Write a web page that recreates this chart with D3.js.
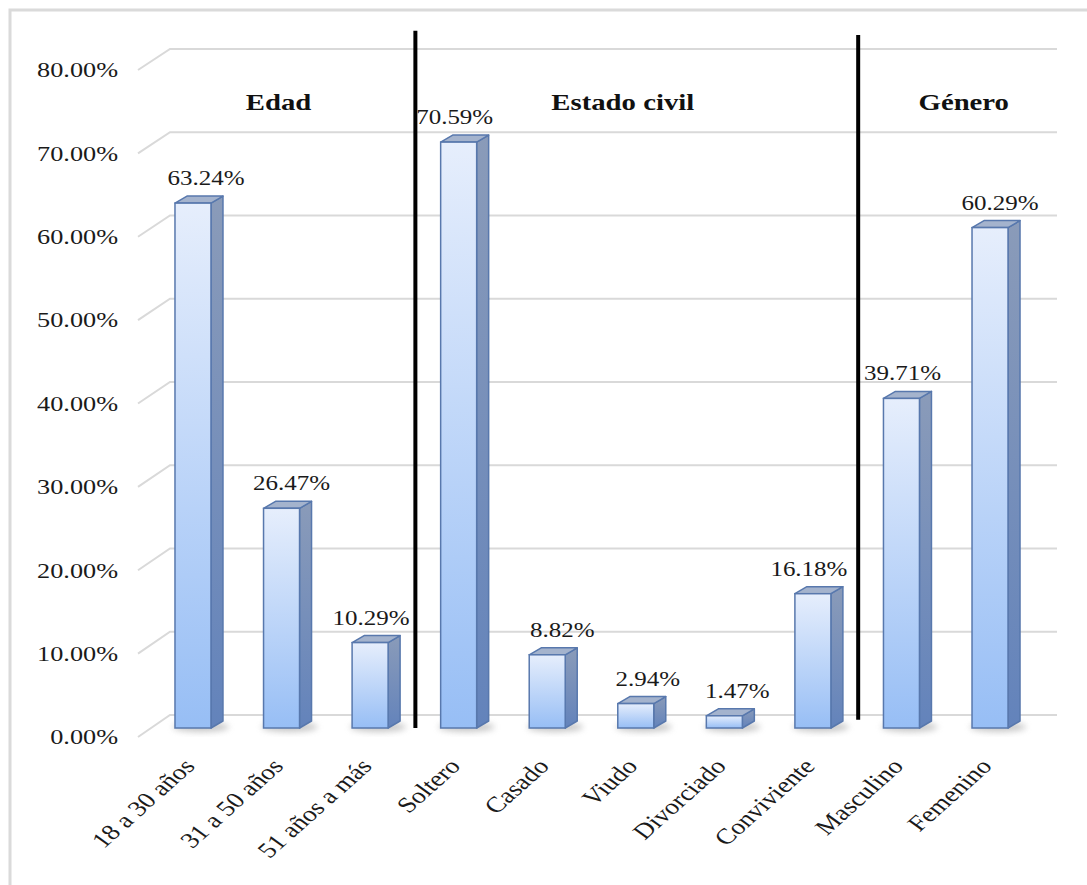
<!DOCTYPE html>
<html>
<head>
<meta charset="utf-8">
<script src="https://cdn.jsdelivr.net/npm/d3@7"></script>
<style>
  body { margin: 0; background: #fff; }
  text { font-family: "Liberation Serif", "Times New Roman", serif; fill: #1a1a1a; }
</style>
</head>
<body>
<div id="chart"></div>
<script>
// chart data
var categories = ['18 a 30 años', '31 a 50 años', '51 años a más', 'Soltero', 'Casado', 'Viudo', 'Divorciado', 'Conviviente', 'Masculino', 'Femenino'];
var values = [63.24, 26.47, 10.29, 70.59, 8.82, 2.94, 1.47, 16.18, 39.71, 60.29];
var groups = ['Edad', 'Estado civil', 'Género'];
var groupSizes = [3, 5, 2];
var yTicks = [0, 10, 20, 30, 40, 50, 60, 70, 80];

var width = 1087, height = 885;
var sx = 1.25; // the picture is stretched sideways

var svg = d3.select('#chart').append('svg')
    .attr('width', width)
    .attr('height', height);

var defs = svg.append('defs');
var gFront = defs.append('linearGradient').attr('id', 'front').attr('x1', 0).attr('y1', 0).attr('x2', 0).attr('y2', 1);
gFront.append('stop').attr('offset', '0%').attr('stop-color', '#e6eefc');
gFront.append('stop').attr('offset', '100%').attr('stop-color', '#97bef5');
var gSide = defs.append('linearGradient').attr('id', 'side').attr('x1', 0).attr('y1', 0).attr('x2', 0).attr('y2', 1);
gSide.append('stop').attr('offset', '0%').attr('stop-color', '#8a9bb9');
gSide.append('stop').attr('offset', '100%').attr('stop-color', '#6383bb');
defs.append('filter').attr('id', 'blur').attr('x', '-50%').attr('y', '-50%').attr('width', '200%').attr('height', '200%')
    .append('feGaussianBlur').attr('stdDeviation', 3);

// outer frame
svg.append('rect')
    .attr('x', 10).attr('y', 10)
    .attr('width', width).attr('height', height)
    .attr('fill', 'none')
    .attr('stroke', '#dadada')
    .attr('stroke-width', 3);

// scales
var yBack = d3.scaleLinear().domain([0, 80]).range([715, 49]);
var yFront = d3.scaleLinear().domain([0, 80]).range([737, 70]);
var yBar = d3.scaleLinear().domain([0, 80]).range([728, 64]);
var x = d3.scaleBand().domain(categories).range([148.7, 1034.3]);

var barW = 36, depthX = 12, depthY = 7;
var wallLeft = 170, wallRight = 1057, frontLeft = 138;
// labels were nudged sideways by hand in the original
var labelNudge = [13, 10, 1, -4, 15, 12, 13, -4, 1, 10];

// gridlines (back wall + left wall slant)
var grid = svg.append('g');
grid.selectAll('path')
    .data(yTicks)
    .enter()
    .append('path')
    .attr('d', function (d) {
        return 'M' + frontLeft + ',' + yFront(d) + 'L' + wallLeft + ',' + yBack(d) + 'L' + wallRight + ',' + yBack(d);
    })
    .attr('fill', 'none')
    .attr('stroke', '#d9d9d9')
    .attr('stroke-width', 2);

// y labels
svg.append('g').selectAll('text')
    .data(yTicks)
    .enter()
    .append('text')
    .attr('transform', function (d) { return 'translate(118,' + yFront(d) + ') scale(' + sx + ',1)'; })
    .attr('text-anchor', 'end')
    .attr('dy', '0.35em')
    .style('font-size', '21px')
    .text(function (d) { return d.toFixed(2) + '%'; });

// bars
var bars = svg.append('g').selectAll('g')
    .data(categories)
    .enter()
    .append('g');

function cx(c) { return x(c) + x.bandwidth() / 2; }

// shadow at the base
bars.append('ellipse')
    .attr('cx', function (c) { return cx(c) + 8; })
    .attr('cy', yBar(0) - 1)
    .attr('rx', barW / 2 + 10)
    .attr('ry', 5)
    .attr('fill', '#9a9a9a')
    .attr('opacity', 0.55)
    .attr('filter', 'url(#blur)');

bars.append('path')
    .attr('d', function (c, i) {
        var l = cx(c) - barW / 2, r = l + barW, t = yBar(values[i]), b = yBar(0);
        return 'M' + r + ',' + t + 'L' + (r + depthX) + ',' + (t - depthY) + 'L' + (r + depthX) + ',' + (b - depthY) + 'L' + r + ',' + b + 'Z';
    })
    .attr('fill', 'url(#side)')
    .attr('stroke', '#5878ad')
    .attr('stroke-width', 1.5)
    .attr('stroke-linejoin', 'round');

bars.append('path')
    .attr('d', function (c, i) {
        var l = cx(c) - barW / 2, r = l + barW, t = yBar(values[i]);
        return 'M' + l + ',' + t + 'L' + (l + depthX) + ',' + (t - depthY) + 'L' + (r + depthX) + ',' + (t - depthY) + 'L' + r + ',' + t + 'Z';
    })
    .attr('fill', '#a4b3cd')
    .attr('stroke', '#5878ad')
    .attr('stroke-width', 1.5)
    .attr('stroke-linejoin', 'round');

bars.append('rect')
    .attr('x', function (c) { return cx(c) - barW / 2; })
    .attr('y', function (c, i) { return yBar(values[i]); })
    .attr('width', barW)
    .attr('height', function (c, i) { return yBar(0) - yBar(values[i]); })
    .attr('fill', 'url(#front)')
    .attr('stroke', '#5878ad')
    .attr('stroke-width', 1.5);

// value labels
bars.append('text')
    .attr('transform', function (c, i) { return 'translate(' + (cx(c) + labelNudge[i]) + ',' + (yBar(values[i]) - 18) + ') scale(' + sx + ',1)'; })
    .attr('text-anchor', 'middle')
    .style('font-size', '20px')
    .text(function (c, i) { return values[i].toFixed(2) + '%'; });

// category labels
svg.append('g').selectAll('text')
    .data(categories)
    .enter()
    .append('text')
    .attr('transform', function (c) { return 'translate(' + (cx(c) - 4) + ',762) scale(' + sx + ',1) rotate(-48)'; })
    .attr('text-anchor', 'end')
    .attr('dy', '0.35em')
    .style('font-size', '22px')
    .text(function (c) { return c; });

// group separators and titles
var starts = [];
groupSizes.reduce(function (acc, n) { starts.push(acc); return acc + n; }, 0);
var titleShift = [-3, -13, 18];

svg.append('g').selectAll('text')
    .data(groups)
    .enter()
    .append('text')
    .attr('transform', function (g, i) {
        var a = cx(categories[starts[i]]), b = cx(categories[starts[i] + groupSizes[i] - 1]);
        return 'translate(' + ((a + b) / 2 + titleShift[i]) + ',110) scale(' + sx + ',1)';
    })
    .attr('text-anchor', 'middle')
    .style('font-size', '23px')
    .style('font-weight', 'bold')
    .style('fill', '#111')
    .text(function (g) { return g; });

var sepTop = [84, 83.5], sepBottom = [0, 1];
svg.append('g').selectAll('line')
    .data(starts.slice(1))
    .enter()
    .append('line')
    .attr('x1', function (s) { return x(categories[s]) + 1; })
    .attr('x2', function (s) { return x(categories[s]) + 1; })
    .attr('y1', function (s, i) { return yBar(sepTop[i]); })
    .attr('y2', function (s, i) { return yBar(sepBottom[i]); })
    .attr('stroke', '#000')
    .attr('stroke-width', 4);
</script>
</body>
</html>
